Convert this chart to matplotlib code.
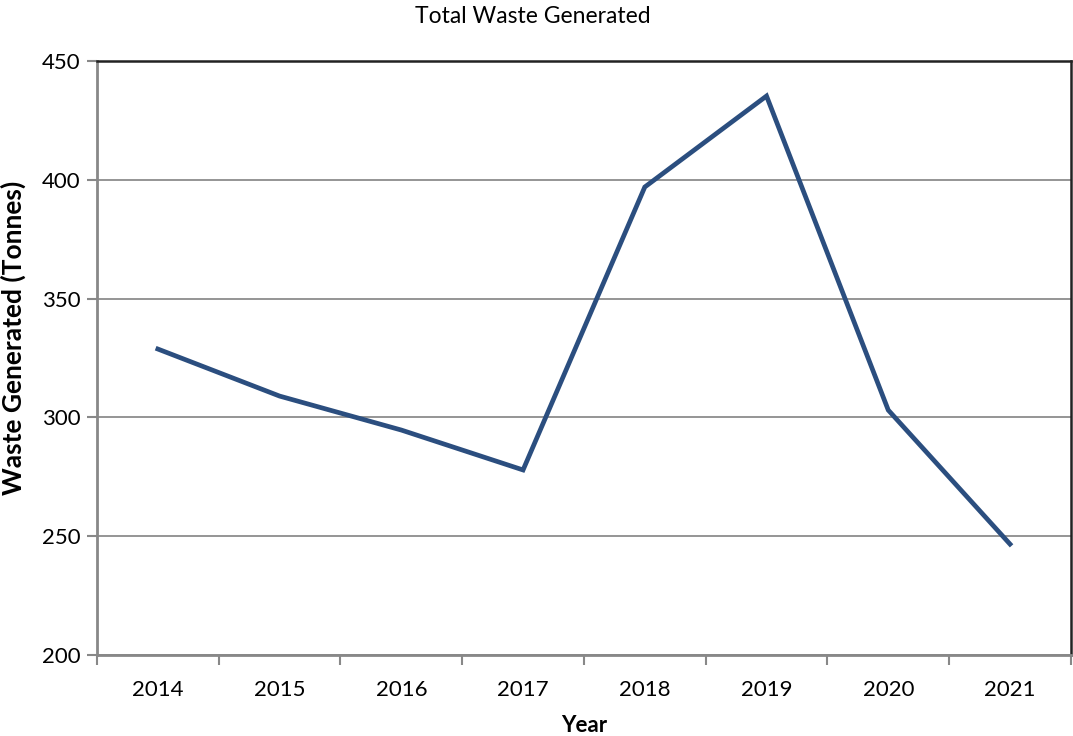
import matplotlib
matplotlib.use('Agg')
import matplotlib.pyplot as plt

# Data
years = ['2014', '2015', '2016', '2017', '2018', '2019', '2020', '2021']
waste = [328.8, 309.0, 294.7, 277.9, 397.0, 435.3, 303.1, 246.7]

plt.rcParams['font.family'] = ['Lato', 'DejaVu Sans']

fig = plt.figure(figsize=(10.73, 7.36), dpi=100)
ax = fig.add_axes([0.0904, 0.110, 0.9076, 0.807])

x = range(len(years))
ax.plot(x, waste, color='#2B4E7F', linewidth=3.4, solid_joinstyle='miter', zorder=3)

ax.set_xlim(-0.5, len(years) - 0.5)
ax.set_ylim(200, 450)
ax.set_yticks(range(200, 451, 50))
ax.set_xticks(list(x))
ax.set_xticklabels(years)
ax.set_xticks([i - 0.5 for i in range(len(years) + 1)], minor=True)

# category ticks sit between labels, like the source
ax.tick_params(axis='x', which='major', length=0, pad=18, labelsize=16)
ax.tick_params(axis='x', which='minor', length=7, width=1.5, color='#888888', direction='out')
ax.tick_params(axis='y', length=7, width=1.5, color='#888888', labelsize=16, pad=5)

ax.grid(axis='y', color='#8C8C8C', linewidth=1.3, zorder=0)

for side in ['left', 'bottom']:
    ax.spines[side].set_color('#888888')
    ax.spines[side].set_linewidth(2)
for side in ['top', 'right']:
    ax.spines[side].set_color('#222222')
    ax.spines[side].set_linewidth(1.8)

# title is centred on the figure, not the axes
fig.text(0.497, 0.978, 'Total Waste Generated', fontsize=16.5, ha='center', va='center')
ax.set_xlabel('Year', fontsize=16, fontweight='bold', labelpad=11)
ax.set_ylabel('Waste Generated (Tonnes)', fontsize=19, fontweight='bold')
ax.yaxis.set_label_coords(-0.073, 0.534)

fig.savefig('out.png', dpi=100)
